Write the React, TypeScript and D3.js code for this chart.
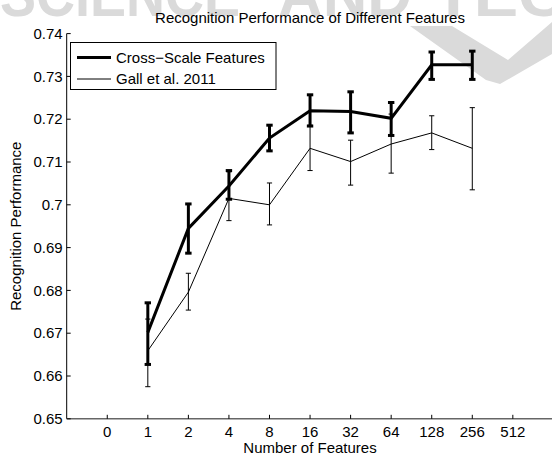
import React from "react";
import * as d3 from "d3";

const categories = ["0", "1", "2", "4", "8", "16", "32", "64", "128", "256", "512"];
const yTicks = [0.65, 0.66, 0.67, 0.68, 0.69, 0.7, 0.71, 0.72, 0.73, 0.74];

// data at categories index 1..9 (1..256 features)
const crossIdx = [1, 2, 3, 4, 5, 6, 7, 8, 9];
const crossMean = [0.6702, 0.6945, 0.7044, 0.7156, 0.722, 0.7218, 0.7202, 0.7327, 0.7327];
const crossUpper = [0.6771, 0.7002, 0.708, 0.7186, 0.7257, 0.7264, 0.7239, 0.7357, 0.7359];
const crossLower = [0.6627, 0.6887, 0.7013, 0.7126, 0.7184, 0.7168, 0.7162, 0.7293, 0.7293];

const gallIdx = [1, 2, 3, 4, 5, 6, 7, 8, 9];
const gallMean = [0.6659, 0.6796, 0.7015, 0.7, 0.7132, 0.7101, 0.7142, 0.7168, 0.7132];
const gallUpper = [0.6733, 0.684, 0.7077, 0.7051, 0.7186, 0.7151, 0.7212, 0.7208, 0.7227];
const gallLower = [0.6575, 0.6754, 0.6963, 0.6953, 0.708, 0.7046, 0.7074, 0.7129, 0.7035];

const seriesNames = ["Cross\u2212Scale Features", "Gall et al. 2011"];

const W = 552;
const H = 455;
const FONT = "'Liberation Sans', Arial, Helvetica, sans-serif";

export default function App() {
  const x = d3.scaleLinear().domain([-1, 11]).range([66.7, 553.4]);
  const y = d3.scaleLinear().domain([0.65, 0.74]).range([418.8, 33.6]);
  const line = d3
    .line<[number, number]>()
    .x((d) => x(d[0]))
    .y((d) => y(d[1]));

  const series = [
    { idx: gallIdx, mean: gallMean, up: gallUpper, lo: gallLower, w: 1, cap: 2.6, capW: 1 },
    { idx: crossIdx, mean: crossMean, up: crossUpper, lo: crossLower, w: 3, cap: 3.2, capW: 3 },
  ];

  return (
    <svg
      width={W}
      height={H}
      style={{ position: "absolute", left: 0, top: 0, background: "#fff" }}
      fontFamily={FONT}
    >
      {/* watermark */}
      <g fill="#dadada" fontSize={62} fontWeight="bold">
        <text x={0} y={16} textLength={240} lengthAdjust="spacingAndGlyphs">SCIENCE</text>
        <text x={278} y={16} textLength={134} lengthAdjust="spacingAndGlyphs">AND</text>
        <text x={433} y={16} textLength={470} lengthAdjust="spacingAndGlyphs">TECHNOLOGY</text>
        <path d="M410,26 L452,26 L508,60 L552,22 L552,54 L500,84 L486,80 Z" />
      </g>

      {/* title */}
      <text x={310} y={23} fontSize={15} textAnchor="middle" fill="#000">
        Recognition Performance of Different Features
      </text>

      {/* axes */}
      <line x1={x(-1)} x2={x(-1)} y1={y(0.74)} y2={y(0.65)} stroke="#000" strokeWidth={1} />
      <line x1={x(-1)} x2={W} y1={y(0.65)} y2={y(0.65)} stroke="#666" strokeWidth={1.4} />
      {yTicks.map((t) => (
        <g key={t}>
          <line x1={x(-1)} x2={x(-1) + 4} y1={y(t)} y2={y(t)} stroke="#000" />
          <text x={x(-1) - 4} y={y(t)} dy="0.35em" fontSize={15} textAnchor="end">
            {d3.format("")(t)}
          </text>
        </g>
      ))}
      {categories.map((c, i) => (
        <g key={c}>
          <line x1={x(i)} x2={x(i)} y1={y(0.65)} y2={y(0.65) - 4} stroke="#000" />
          <text x={x(i)} y={437} fontSize={15} textAnchor="middle">
            {c}
          </text>
        </g>
      ))}
      <text x={310} y={453} fontSize={15} textAnchor="middle">
        Number of Features
      </text>
      <text
        transform={`translate(21,${(y(0.74) + y(0.65)) / 2}) rotate(-90)`}
        fontSize={15}
        textAnchor="middle"
      >
        Recognition Performance
      </text>

      {/* series */}
      {series.map((s, k) => (
        <g key={k} stroke="#000" fill="none">
          <path
            d={line(s.idx.map((v, i) => [v, s.mean[i]] as [number, number])) || ""}
            strokeWidth={s.w}
            strokeLinejoin="miter"
          />
          {s.idx.map((v, i) => (
            <g key={i} strokeWidth={s.w}>
              <line x1={x(v)} x2={x(v)} y1={y(s.up[i])} y2={y(s.lo[i])} />
              <line
                x1={x(v) - s.cap}
                x2={x(v) + s.cap}
                y1={y(s.up[i])}
                y2={y(s.up[i])}
                strokeWidth={s.capW}
              />
              <line
                x1={x(v) - s.cap}
                x2={x(v) + s.cap}
                y1={y(s.lo[i])}
                y2={y(s.lo[i])}
                strokeWidth={s.capW}
              />
            </g>
          ))}
        </g>
      ))}

      {/* legend */}
      <g>
        <rect x={70.5} y={42.5} width={205.5} height={47} fill="#fff" stroke="#000" strokeWidth={1} />
        <line x1={77} x2={111} y1={57.5} y2={57.5} stroke="#000" strokeWidth={3} />
        <text x={116} y={57.5} dy="0.35em" fontSize={15}>
          {seriesNames[0]}
        </text>
        <line x1={77} x2={111} y1={79} y2={79} stroke="#000" strokeWidth={1} />
        <text x={116} y={79} dy="0.35em" fontSize={15}>
          {seriesNames[1]}
        </text>
      </g>
    </svg>
  );
}
